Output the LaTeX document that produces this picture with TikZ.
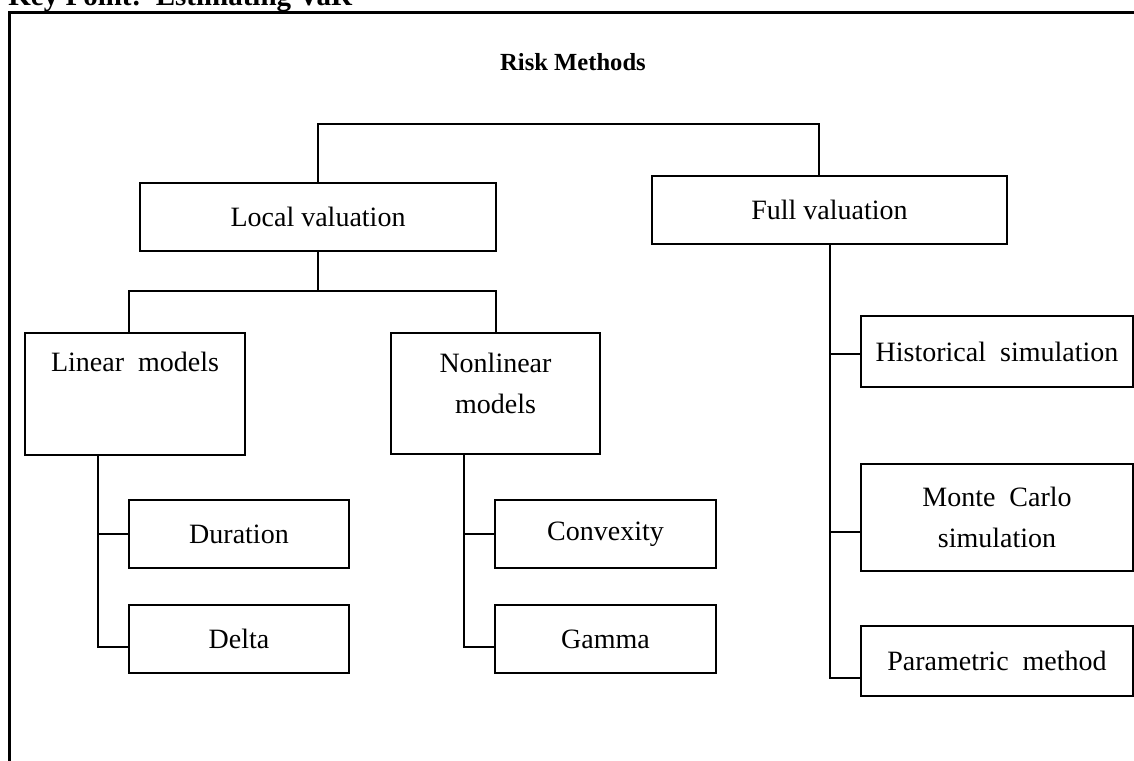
\documentclass[tikz,border=0pt]{standalone}
\usepackage{fontspec}
\setmainfont{Liberation Serif}
\begin{document}
\begin{tikzpicture}[x=0.5pt,y=-0.5pt,
  box/.style={draw, line width=1pt, inner sep=0pt, outer sep=0pt},
  lbl/.style={font=\fontsize{14}{20.5}\selectfont, align=center, inner sep=0pt},
  conn/.style={line width=1pt},
  frame/.style={line width=1.5pt}]
\useasboundingbox (0,0) rectangle (1134,760);

% header (cut off at top)
\node[anchor=base west, inner sep=0pt, font=\bfseries\fontsize{14.5}{17}\selectfont] (kp) at (8,5) {Key Point:\ \ Estimating VaR};
\draw[frame] (9,775) -- (9,12) -- (1145,12);

% title
\node[font=\bfseries\fontsize{12.3}{15}\selectfont] (title) at (573,62) {Risk Methods};

% level 1
\node[box, lbl, minimum width=178pt, minimum height=34pt] (local) at (318,217) {Local valuation};
\node[box, lbl, minimum width=177.5pt, minimum height=34pt] (full) at (829.5,210) {Full valuation};

% level 2
\node[box, minimum width=110pt, minimum height=61pt] (lin) at (135,394) {};
\node[lbl] (lintxt) at (135,362) {Linear\ \ models};
\node[box, minimum width=104.5pt, minimum height=60.5pt] (nonlin) at (495.5,393.5) {};
\node[lbl] (nonlintxt) at (495.5,383) {Nonlinear\\models};

% level 3 local
\node[box, lbl, minimum width=110pt, minimum height=34pt] (dur) at (239,534) {Duration};
\node[box, lbl, minimum width=110pt, minimum height=34pt] (delta) at (239,639) {Delta};
\node[box, lbl, minimum width=110.5pt, minimum height=34pt] (conv) at (605.5,534) {Convexity};
\node[box, lbl, minimum width=110.5pt, minimum height=34pt] (gamma) at (605.5,639) {Gamma};

% level 3 full
\node[box, lbl, minimum width=136pt, minimum height=35.5pt] (hist) at (997,351.5) {Historical\ \ simulation};
\node[box, lbl, minimum width=136pt, minimum height=53.5pt] (mc) at (997,517.5) {Monte\ \ Carlo\\simulation};
\node[box, lbl, minimum width=136pt, minimum height=35pt] (param) at (997,661) {Parametric\ \ method};

% connectors: top
\coordinate (tl) at (318,124);
\coordinate (tr) at (819,124);
\draw[conn] (local.north) -- (tl) -- (tr) -- (tr |- full.north);

% local -> linear / nonlinear
\coordinate (lm) at (318,291);
\coordinate (ll) at (129,291);
\coordinate (lr) at (496,291);
\draw[conn] (local.south) -- (lm);
\draw[conn] (ll |- lin.north) -- (ll) -- (lr) -- (lr |- nonlin.north);

% linear -> duration / delta
\coordinate (lv) at (98,647);
\draw[conn] (lv |- lin.south) -- (lv) -- ([yshift=-4pt]delta.west);
\draw[conn] (lv |- dur.west) -- (dur.west);

% nonlinear -> convexity / gamma
\coordinate (nv) at (464,647);
\draw[conn] (nv |- nonlin.south) -- (nv) -- ([yshift=-4pt]gamma.west);
\draw[conn] (nv |- conv.west) -- (conv.west);

% full -> methods
\coordinate (fv) at (830,678);
\draw[conn] (fv |- full.south) -- (fv) -- ([yshift=-8.5pt]param.west);
\draw[conn] ([yshift=-1.25pt]fv |- hist.west) -- ([yshift=-1.25pt]hist.west);
\draw[conn] ([yshift=-7.25pt]fv |- mc.west) -- ([yshift=-7.25pt]mc.west);
\end{tikzpicture}
\end{document}
